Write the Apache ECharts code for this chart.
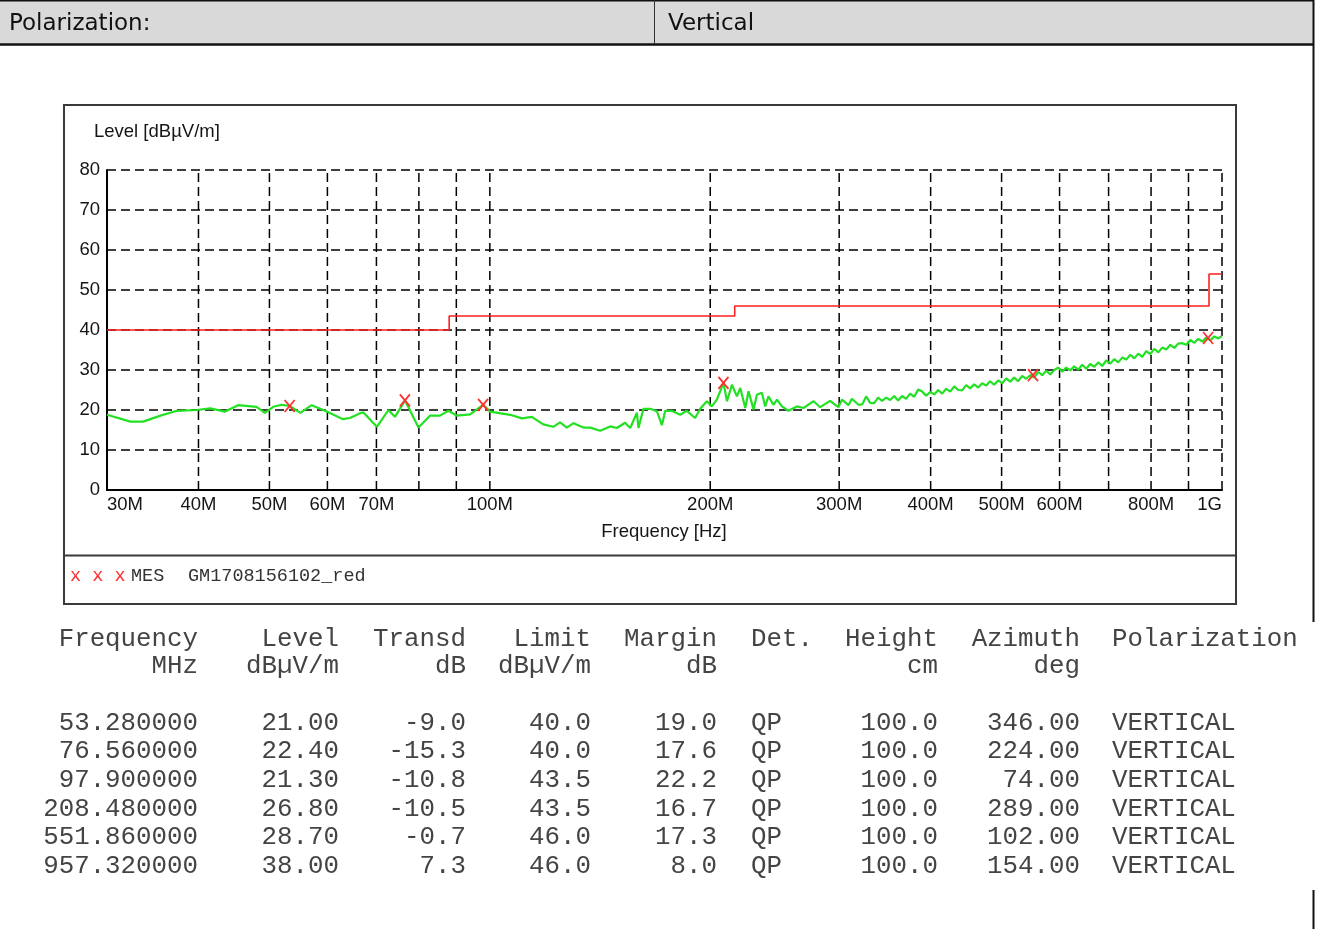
<!DOCTYPE html>
<html>
<head>
<meta charset="utf-8">
<script src="https://cdn.jsdelivr.net/npm/echarts@6/dist/echarts.min.js"></script>
<style>
  html, body { margin: 0; padding: 0; background: #fff; }
  #main { width: 1322px; height: 929px; }
</style>
</head>
<body>
<div id="main"></div>
<script>
// Frequency axis ticks in MHz and their labels (empty = grid line only)
const xTickFreqs  = [30, 40, 50, 60, 70, 80, 90, 100, 200, 300, 400, 500, 600, 700, 800, 900, 1000];
const xTickLabels = ['30M', '40M', '50M', '60M', '70M', '', '', '100M', '200M', '300M', '400M', '500M', '600M', '', '800M', '', '1G'];

// Limit line: band edges (MHz) and level in each band (dBµV/m)
const limitEdges  = [30, 88, 216, 960, 1000];
const limitLevels = [40, 43.5, 46, 54, 54];

// Measured spectrum, 30 MHz - 320 MHz: [MHz, dBµV/m]
const traceLow = [
  [30.0, 18.8], [32.3, 17.1], [33.6, 17.1], [35.5, 18.6], [37.4, 19.8], [39.8, 20.0], [41.5, 20.4],
  [43.5, 19.6], [45.3, 21.2], [48.0, 20.8], [49.3, 19.3], [50.6, 20.8], [52.0, 21.3], [53.3, 21.0],
  [55.1, 19.3], [57.1, 21.2], [59.9, 19.6], [63.0, 17.7], [64.4, 18.0], [66.5, 19.2], [67.2, 19.4],
  [70.1, 15.8], [72.7, 20.0], [74.2, 18.3], [76.6, 22.4], [79.9, 15.6], [82.9, 18.6], [85.5, 18.6],
  [87.8, 19.8], [90.1, 18.6], [94.0, 18.9], [97.9, 21.3], [100.1, 19.6], [106.6, 18.8], [110.6, 17.9],
  [114.1, 18.3], [118.3, 16.4], [122.1, 15.8], [124.7, 16.9], [127.4, 15.6], [130.1, 16.7], [134.2, 15.6],
  [137.1, 15.6], [141.5, 14.8], [146.0, 15.9], [149.1, 15.5], [153.0, 16.8], [155.5, 15.5], [158.8, 19.3],
  [159.6, 15.5], [162.1, 20.3], [165.6, 20.3], [169.1, 19.7], [171.8, 16.2], [173.6, 19.8], [177.2, 19.8],
  [182.0, 18.8], [185.8, 19.8], [190.7, 18.0], [193.8, 20.3], [197.9, 22.2], [201.0, 20.9], [204.2, 22.6],
  [208.5, 26.8], [210.8, 22.2], [214.1, 26.3], [217.5, 23.4], [219.8, 25.5], [223.3, 20.5], [225.6, 24.7],
  [229.2, 20.1], [231.6, 23.8], [235.3, 24.3], [237.7, 20.9], [240.2, 23.4], [244.0, 21.3], [246.7, 22.6],
  [250.6, 20.9], [255.8, 19.8], [262.7, 20.9], [268.2, 20.5], [276.8, 22.2], [282.6, 20.7], [291.5, 22.3],
  [299.3, 20.7], [302.6, 22.6], [308.9, 21.2], [312.2, 22.8], [318.8, 21.3]
];

// Measured spectrum, 320 MHz - 1 GHz: [MHz, dBµV/m]
const traceHigh = [
  [322.5, 21.4], [326.6, 23.4], [330.7, 21.8], [334.9, 21.7], [339.1, 23.1], [343.4, 22.3], [347.8, 23.1],
  [352.2, 22.5], [356.6, 23.5], [361.1, 22.4], [365.7, 23.5], [370.3, 22.8], [375.0, 24.1], [379.8, 23.3],
  [384.6, 25.1], [389.5, 24.6], [394.4, 23.6], [399.4, 24.5], [404.5, 23.9], [409.6, 25.0], [414.8, 24.1],
  [420.0, 25.3], [425.4, 24.6], [430.8, 25.9], [436.2, 25.0], [441.7, 24.9], [447.3, 26.2], [453.0, 25.4],
  [458.7, 26.4], [464.5, 25.6], [470.4, 26.7], [476.4, 26.1], [482.4, 27.2], [488.5, 26.3], [494.7, 27.4],
  [501.0, 26.7], [507.3, 27.9], [513.7, 27.1], [520.2, 28.1], [526.8, 27.2], [533.5, 28.5], [540.3, 27.8],
  [547.1, 28.7], [554.0, 28.1], [561.0, 29.5], [568.1, 28.7], [575.3, 29.8], [582.6, 28.9], [590.0, 30.0],
  [597.5, 30.6], [605.0, 29.6], [612.7, 30.6], [620.5, 29.9], [628.3, 30.9], [636.3, 30.1], [644.3, 31.3],
  [652.5, 30.3], [660.7, 31.5], [669.1, 30.8], [677.6, 31.9], [686.2, 31.0], [694.9, 32.4], [703.7, 31.6],
  [712.6, 32.7], [721.6, 31.9], [730.7, 33.1], [740.0, 32.6], [749.4, 33.8], [758.9, 32.9], [768.5, 34.1],
  [778.2, 33.3], [788.1, 34.7], [798.1, 34.0], [808.2, 35.3], [818.4, 34.4], [828.8, 35.6], [839.3, 35.1],
  [849.9, 36.3], [860.7, 35.5], [871.6, 36.6], [882.6, 36.7], [893.8, 36.3], [905.1, 37.5], [916.6, 36.8],
  [928.2, 37.8], [940.0, 37.1], [951.9, 38.1], [964.0, 37.4], [976.2, 38.4], [988.6, 37.9], [1000, 38.5]
];

// Final measurement results
const measFreqs     = [53.28, 76.56, 97.90, 208.48, 551.86, 957.32];
const measLevels    = [21.00, 22.40, 21.30, 26.80, 28.70, 38.00];
const measTransd    = [-9.0, -15.3, -10.8, -10.5, -0.7, 7.3];
const measLimits    = [40.0, 40.0, 43.5, 43.5, 46.0, 46.0];
const measMargins   = [19.0, 17.6, 22.2, 16.7, 17.3, 8.0];
const measDetectors = ['QP', 'QP', 'QP', 'QP', 'QP', 'QP'];
const measHeights   = [100.0, 100.0, 100.0, 100.0, 100.0, 100.0];
const measAzimuths  = [346.00, 224.00, 74.00, 289.00, 102.00, 154.00];
const measPolar     = ['VERTICAL', 'VERTICAL', 'VERTICAL', 'VERTICAL', 'VERTICAL', 'VERTICAL'];

const chart = echarts.init(document.getElementById('main'), null, { renderer: 'canvas' });

const SANS = '"Liberation Sans", Arial, sans-serif';
const MONO = '"Liberation Mono", "DejaVu Sans Mono", monospace';
const TXT = '#151515';

// ---- page frame, header and result table ----
const graphics = [];
graphics.push(
  { type: 'rect', shape: { x: 0, y: 0, width: 1313, height: 44 }, style: { fill: '#d9d9d9' }, z: 1 },
  { type: 'line', shape: { x1: 0, y1: 0.75, x2: 1314, y2: 0.75 }, style: { stroke: '#111', lineWidth: 1.5 }, z: 2 },
  { type: 'line', shape: { x1: 0, y1: 44.5, x2: 1314, y2: 44.5 }, style: { stroke: '#111', lineWidth: 2.5 }, z: 2 },
  { type: 'line', shape: { x1: 654.5, y1: 0, x2: 654.5, y2: 44 }, style: { stroke: '#333', lineWidth: 1 }, z: 2 },
  { type: 'line', shape: { x1: 1313.5, y1: 0, x2: 1313.5, y2: 622 }, style: { stroke: '#111', lineWidth: 2 }, z: 2 },
  { type: 'line', shape: { x1: 1313.5, y1: 890, x2: 1313.5, y2: 929 }, style: { stroke: '#111', lineWidth: 2 }, z: 2 },
  { type: 'text', x: 9, y: 24, style: { text: 'Polarization:', font: '23px "DejaVu Sans", sans-serif', fill: '#111', textVerticalAlign: 'middle', verticalAlign: 'middle' }, z: 3 },
  { type: 'text', x: 668, y: 24, style: { text: 'Vertical', font: '23px "DejaVu Sans", sans-serif', fill: '#111', textVerticalAlign: 'middle', verticalAlign: 'middle' }, z: 3 },
  // chart box and legend separator
  { type: 'rect', shape: { x: 64, y: 105, width: 1172, height: 499 }, style: { fill: 'none', stroke: '#3a3a3a', lineWidth: 2 }, z: 2 },
  { type: 'line', shape: { x1: 64, y1: 555.5, x2: 1236, y2: 555.5 }, style: { stroke: '#3a3a3a', lineWidth: 2 }, z: 2 },
  // axis titles
  { type: 'text', x: 94, y: 132, style: { text: 'Level [dBµV/m]', font: '18.5px ' + SANS, fill: TXT, textVerticalAlign: 'middle', verticalAlign: 'middle' }, z: 3 },
  { type: 'text', x: 664, y: 532, style: { text: 'Frequency [Hz]', font: '18.5px ' + SANS, fill: TXT, textAlign: 'center', align: 'center', textVerticalAlign: 'middle', verticalAlign: 'middle' }, z: 3 },
  // legend
  { type: 'text', x: 70, y: 576, style: { text: 'x x x', font: '18.5px ' + MONO, fill: '#ff2a2a', textVerticalAlign: 'middle', verticalAlign: 'middle' }, z: 3 },
  { type: 'text', x: 131, y: 576, style: { text: 'MES', font: '18.5px ' + MONO, fill: '#333', textVerticalAlign: 'middle', verticalAlign: 'middle' }, z: 3 },
  { type: 'text', x: 188, y: 576, style: { text: 'GM1708156102_red', font: '18.5px ' + MONO, fill: '#333', textVerticalAlign: 'middle', verticalAlign: 'middle' }, z: 3 }
);

// result table columns: anchor x, alignment, two header lines, formatted cells
const tableCols = [
  { x: 198,  align: 'right', head: ['Frequency', 'MHz'],    cells: measFreqs.map(v => v.toFixed(6)) },
  { x: 339,  align: 'right', head: ['Level', 'dBµV/m'],     cells: measLevels.map(v => v.toFixed(2)) },
  { x: 466,  align: 'right', head: ['Transd', 'dB'],        cells: measTransd.map(v => v.toFixed(1)) },
  { x: 591,  align: 'right', head: ['Limit', 'dBµV/m'],     cells: measLimits.map(v => v.toFixed(1)) },
  { x: 717,  align: 'right', head: ['Margin', 'dB'],        cells: measMargins.map(v => v.toFixed(1)) },
  { x: 751,  align: 'left',  head: ['Det.', ''],            cells: measDetectors },
  { x: 938,  align: 'right', head: ['Height', 'cm'],        cells: measHeights.map(v => v.toFixed(1)) },
  { x: 1080, align: 'right', head: ['Azimuth', 'deg'],      cells: measAzimuths.map(v => v.toFixed(2)) },
  { x: 1112, align: 'left',  head: ['Polarization', ''],    cells: measPolar }
];
const tableFont = '25.8px ' + MONO;
const headRowsY = [639, 666];
const firstRowY = 723, rowStep = 28.6;
function tableText(x, y, text, align) {
  return { type: 'text', x: x, y: y, z: 3,
    style: { text: text, font: tableFont, fill: '#444', textAlign: align, align: align,
             textVerticalAlign: 'middle', verticalAlign: 'middle' } };
}
tableCols.forEach(col => {
  col.head.forEach((h, i) => { if (h) graphics.push(tableText(col.x, headRowsY[i], h, col.align)); });
  col.cells.forEach((c, r) => graphics.push(tableText(col.x, firstRowY + r * rowStep, c, col.align)));
});

// ---- chart ----
const gridStyle = { color: '#000', width: 1.5, type: [9, 5] };

chart.setOption({
  animation: false,
  backgroundColor: '#fff',
  grid: { left: 107, right: 100, top: 170, bottom: 439, containLabel: false, outerBoundsMode: 'none' },
  xAxis: {
    type: 'log', logBase: 10, min: 30, max: 1000,
    axisLine: { show: true, onZero: false, lineStyle: { color: '#000', width: 2 } },
    axisTick: { show: false },
    axisLabel: { show: false },
    splitLine: { show: false },
    minorTick: { show: false },
    minorSplitLine: { show: false }
  },
  yAxis: {
    type: 'value', min: 0, max: 80, interval: 10,
    axisLine: { show: true, lineStyle: { color: '#000', width: 2 } },
    axisTick: { show: false },
    axisLabel: { margin: 7, fontFamily: SANS, fontSize: 18.5, color: TXT },
    splitLine: { show: true, lineStyle: gridStyle }
  },
  graphic: { elements: graphics },
  series: [
    {
      // vertical grid lines and frequency labels placed through the log scale
      type: 'custom',
      name: 'freqGrid',
      silent: true,
      clip: false,
      z: 1,
      data: xTickFreqs.map((f, i) => [f, 0, i]),
      renderItem: function (params, api) {
        const f = api.value(0);
        const idx = api.value(2);
        const bottom = api.coord([f, 0]);
        const top = api.coord([f, 80]);
        const children = [];
        if (idx > 0) {
          children.push({ type: 'line', shape: { x1: bottom[0], y1: bottom[1], x2: top[0], y2: top[1] },
            style: { stroke: '#000', lineWidth: 1.5, lineDash: [9, 5] } });
        }
        const label = xTickLabels[idx];
        if (label) {
          const align = idx === 0 ? 'left' : (idx === xTickFreqs.length - 1 ? 'right' : 'center');
          children.push({ type: 'text', x: bottom[0], y: bottom[1] + 15,
            style: { text: label, font: '18.5px ' + SANS, fill: TXT, textAlign: align, align: align,
                     textVerticalAlign: 'middle', verticalAlign: 'middle' } });
        }
        return { type: 'group', children: children };
      }
    },
    {
      type: 'line',
      name: 'Limit',
      step: 'end',
      data: limitEdges.map((f, i) => [f, limitLevels[i]]),
      showSymbol: false,
      lineStyle: { color: '#ff2020', width: 1.6 },
      z: 3,
      silent: true
    },
    {
      type: 'line',
      name: 'MES',
      data: traceLow.concat(traceHigh),
      showSymbol: false,
      lineStyle: { color: '#22e022', width: 2.2 },
      z: 4,
      silent: true
    },
    {
      // final measurement markers
      type: 'custom',
      name: 'Final',
      silent: true,
      z: 5,
      data: measFreqs.map((f, i) => [f, measLevels[i]]),
      renderItem: function (params, api) {
        const p = api.coord([api.value(0), api.value(1)]);
        const w = 5, h = 6;
        const st = { stroke: '#ff3030', lineWidth: 1.8 };
        return { type: 'group', children: [
          { type: 'line', shape: { x1: p[0] - w, y1: p[1] - h, x2: p[0] + w, y2: p[1] + h }, style: st },
          { type: 'line', shape: { x1: p[0] + w, y1: p[1] - h, x2: p[0] - w, y2: p[1] + h }, style: st }
        ] };
      }
    }
  ]
});
</script>
</body>
</html>
